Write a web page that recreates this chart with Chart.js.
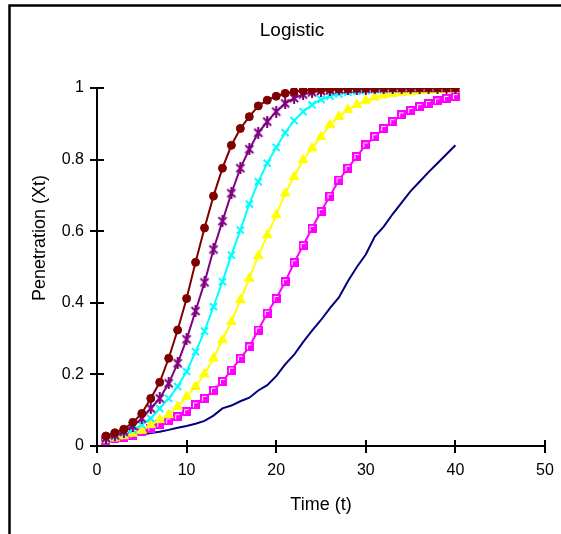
<!DOCTYPE html>
<html>
<head>
<meta charset="utf-8">
<title>Logistic</title>
<script src="https://cdn.jsdelivr.net/npm/chart.js@4.4.1/dist/chart.umd.min.js"></script>
<style>
  html, body { margin: 0; padding: 0; background: #fff; }
  #wrap { width: 561px; height: 534px; }
</style>
</head>
<body>
<div id="wrap"><canvas id="logisticChart" width="561" height="534"></canvas></div>
<script>
// time steps t = 1..40
const time = [1, 2, 3, 4, 5, 6, 7, 8, 9, 10, 11, 12, 13, 14, 15, 16, 17, 18, 19, 20,
  21, 22, 23, 24, 25, 26, 27, 28, 29, 30, 31, 32, 33, 34, 35, 36, 37, 38, 39, 40];

const seriesA = [0.028, 0.037, 0.047, 0.066, 0.091, 0.133, 0.178, 0.245, 0.324, 0.412,
  0.513, 0.609, 0.698, 0.776, 0.840, 0.887, 0.920, 0.950, 0.966, 0.977,
  0.985, 0.990, 0.993, 0.995, 0.996, 0.997, 0.998, 0.998, 0.999, 0.999,
  0.999, 1.000, 1.000, 1.000, 1.000, 1.000, 1.000, 1.000, 1.000, 1.000];
const seriesB = [0.022, 0.030, 0.040, 0.056, 0.077, 0.105, 0.133, 0.175, 0.231, 0.298,
  0.377, 0.457, 0.549, 0.628, 0.706, 0.776, 0.829, 0.875, 0.906, 0.934,
  0.957, 0.972, 0.982, 0.988, 0.992, 0.994, 0.996, 0.997, 0.998, 0.998,
  0.999, 0.999, 1.000, 1.000, 1.000, 1.000, 1.000, 1.000, 1.000, 1.000];
const seriesC = [0.020, 0.028, 0.037, 0.045, 0.059, 0.077, 0.105, 0.133, 0.166, 0.208,
  0.263, 0.321, 0.389, 0.459, 0.533, 0.603, 0.676, 0.738, 0.790, 0.834,
  0.875, 0.909, 0.934, 0.953, 0.968, 0.977, 0.983, 0.988, 0.991, 0.993,
  0.995, 0.996, 0.997, 0.998, 0.998, 0.999, 0.999, 0.999, 1.000, 1.000];
const seriesD = [0.018, 0.022, 0.028, 0.035, 0.043, 0.059, 0.073, 0.087, 0.110, 0.138,
  0.166, 0.201, 0.245, 0.296, 0.347, 0.408, 0.468, 0.531, 0.589, 0.645,
  0.706, 0.752, 0.799, 0.832, 0.864, 0.897, 0.920, 0.939, 0.953, 0.965,
  0.974, 0.980, 0.984, 0.987, 0.989, 0.991, 0.993, 0.994, 0.995, 0.996];
const seriesE = [0.015, 0.020, 0.025, 0.030, 0.040, 0.050, 0.060, 0.070, 0.082, 0.096,
  0.115, 0.133, 0.156, 0.180, 0.212, 0.245, 0.277, 0.324, 0.371, 0.412,
  0.459, 0.512, 0.560, 0.608, 0.655, 0.698, 0.743, 0.776, 0.809, 0.841,
  0.864, 0.887, 0.906, 0.925, 0.937, 0.948, 0.957, 0.964, 0.971, 0.976];
const seriesF = [0.017, 0.020, 0.024, 0.028, 0.032, 0.036, 0.040, 0.045, 0.051, 0.056,
  0.062, 0.070, 0.085, 0.105, 0.113, 0.125, 0.135, 0.155, 0.170, 0.195,
  0.228, 0.255, 0.290, 0.322, 0.352, 0.385, 0.415, 0.460, 0.500, 0.535,
  0.585, 0.613, 0.648, 0.680, 0.712, 0.738, 0.765, 0.790, 0.815, 0.840];

const xTickLabels = ['0', '10', '20', '30', '40', '50'];
const yTickLabels = ['0', '0.2', '0.4', '0.6', '0.8', '1'];

const FONT = "'Liberation Sans', Arial, sans-serif";

function points(ys) {
  return ys.map((y, i) => ({ x: time[i], y: y }));
}

// asterisk marker: an x with a vertical bar through it
function starMarker(color) {
  const c = document.createElement('canvas');
  c.width = 12; c.height = 12;
  const g = c.getContext('2d');
  g.strokeStyle = color;
  g.lineWidth = 2;
  g.beginPath();
  g.moveTo(2, 2); g.lineTo(10, 10);
  g.moveTo(10, 2); g.lineTo(2, 10);
  g.moveTo(6, 0); g.lineTo(6, 12);
  g.stroke();
  return c;
}

// filled square with a light inner corner
function squareMarker(color) {
  const c = document.createElement('canvas');
  c.width = 9; c.height = 9;
  const g = c.getContext('2d');
  g.fillStyle = color;
  g.fillRect(0, 0, 9, 9);
  g.strokeStyle = '#ffffff';
  g.lineWidth = 1;
  g.beginPath();
  g.moveTo(2.5, 7); g.lineTo(2.5, 2.5); g.lineTo(6.5, 2.5);
  g.stroke();
  return c;
}

const frameAndLabels = {
  id: 'frameAndLabels',
  beforeDraw(chart) {
    const ctx = chart.ctx;
    ctx.save();
    ctx.fillStyle = '#ffffff';
    ctx.fillRect(0, 0, chart.width, chart.height);
    ctx.restore();
  },
  afterDraw(chart) {
    const ctx = chart.ctx;
    ctx.save();
    // cross tick marks on both axes
    ctx.strokeStyle = '#000';
    ctx.lineWidth = 2;
    const xs = chart.scales.x, ys = chart.scales.y;
    ctx.beginPath();
    xs.ticks.forEach(t => {
      const px = Math.round(xs.getPixelForValue(t.value));
      ctx.moveTo(px, ys.bottom - 6);
      ctx.lineTo(px, ys.bottom + 7);
    });
    ys.ticks.forEach(t => {
      const py = Math.round(ys.getPixelForValue(t.value));
      ctx.moveTo(xs.left - 7, py);
      ctx.lineTo(xs.left + 7, py);
    });
    ctx.stroke();

    // chart title and y axis title
    ctx.fillStyle = '#000';
    ctx.textAlign = 'center';
    ctx.textBaseline = 'middle';
    ctx.font = '19px ' + FONT;
    ctx.fillText('Logistic', 292, 31);
    ctx.font = '18px ' + FONT;
    ctx.translate(40, 238);
    ctx.rotate(-Math.PI / 2);
    ctx.fillText('Penetration (Xt)', 0, 0);
    ctx.restore();

    // outer frame
    ctx.save();
    ctx.strokeStyle = '#000';
    ctx.lineWidth = 2.5;
    ctx.strokeRect(9.5, 5.5, 700, 700);
    ctx.restore();
  }
};

const common = { borderWidth: 2, tension: 0, fill: false };

new Chart(document.getElementById('logisticChart'), {
  type: 'line',
  data: {
    datasets: [
      Object.assign({ data: points(seriesA), borderColor: '#800000', backgroundColor: '#800000',
        pointStyle: 'circle', pointRadius: 4, pointBorderWidth: 1 }, common),
      Object.assign({ data: points(seriesB), borderColor: '#800080', backgroundColor: '#800080',
        pointStyle: starMarker('#800080'), pointRadius: 6 }, common),
      Object.assign({ data: points(seriesC), borderColor: '#00ffff', backgroundColor: '#00ffff',
        pointStyle: 'crossRot', pointRadius: 5, pointBorderWidth: 2 }, common),
      Object.assign({ data: points(seriesD), borderColor: '#ffff00', backgroundColor: '#ffff00',
        pointStyle: 'triangle', pointRadius: 5.5, pointBorderWidth: 1 }, common),
      Object.assign({ data: points(seriesE), borderColor: '#ff00ff', backgroundColor: '#ff00ff',
        pointStyle: squareMarker('#ff00ff'), pointRadius: 5 }, common),
      Object.assign({ data: points(seriesF), borderColor: '#000080', pointRadius: 0 }, common)
    ]
  },
  options: {
    responsive: false,
    animation: false,
    devicePixelRatio: 1,
    layout: { padding: { top: 88, right: 16, bottom: 0, left: 0 } },
    plugins: {
      legend: { display: false },
      title: { display: false },
      tooltip: { enabled: false }
    },
    scales: {
      x: {
        type: 'linear',
        min: 0,
        max: 50,
        afterFit: s => { s.height = 88; s.paddingLeft = 0; s.paddingRight = 0; },
        grid: { display: false, drawTicks: false },
        border: { display: true, color: '#000', width: 2 },
        ticks: {
          stepSize: 10,
          padding: 15,
          color: '#000',
          font: { family: FONT, size: 16 },
          maxRotation: 0,
          callback: (v, i) => xTickLabels[i]
        },
        title: {
          display: true,
          text: 'Time (t)',
          color: '#000',
          font: { family: FONT, size: 18 },
          padding: { top: 0, bottom: 18 }
        }
      },
      y: {
        min: 0,
        max: 1,
        afterFit: s => { s.width = 97; },
        grid: { display: false, drawTicks: false },
        border: { display: true, color: '#000', width: 2 },
        ticks: {
          stepSize: 0.2,
          padding: 13,
          color: '#000',
          font: { family: FONT, size: 16 },
          callback: (v, i) => yTickLabels[i]
        }
      }
    }
  },
  plugins: [frameAndLabels]
});
</script>
</body>
</html>
